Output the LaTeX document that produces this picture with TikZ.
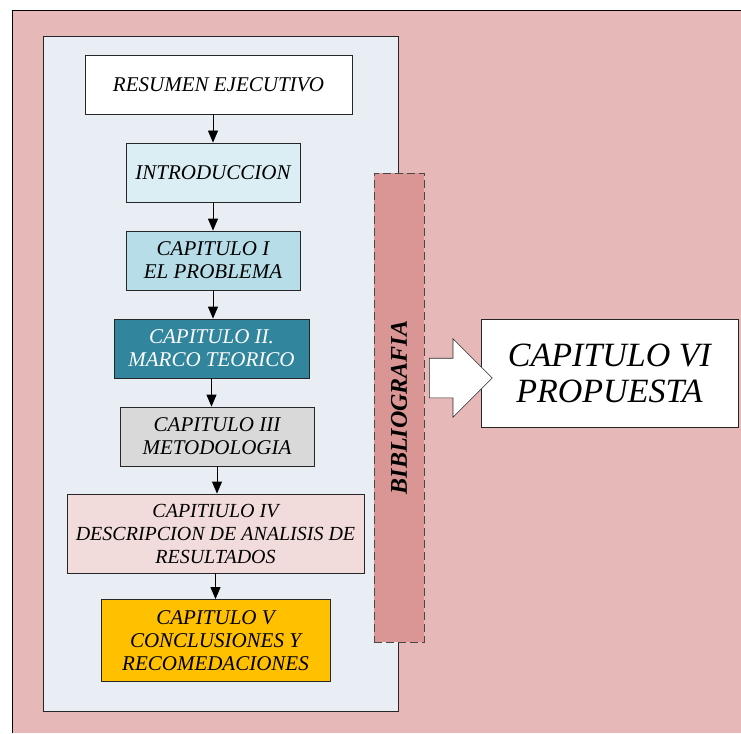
\documentclass[tikz,border=0pt]{standalone}
\usepackage{fontspec}
\setmainfont{Liberation Serif}
\usetikzlibrary{shapes.arrows,arrows.meta}
\definecolor{outerpink}{HTML}{E6B9B8}
\definecolor{panelblue}{HTML}{E9EDF4}
\definecolor{introfill}{HTML}{DBEEF4}
\definecolor{capIfill}{HTML}{B7DEE8}
\definecolor{capIIfill}{HTML}{31859C}
\definecolor{capIIIfill}{HTML}{D9D9D9}
\definecolor{capIVfill}{HTML}{F2DCDB}
\definecolor{capVfill}{HTML}{FFC000}
\definecolor{bibfill}{HTML}{D99694}
\definecolor{edge}{HTML}{262626}
\tikzset{
  chap/.style={draw=edge, line width=0.8pt, inner sep=2pt, align=center,
    font=\fontsize{21}{23}\selectfont\itshape},
  arr/.style={draw=black, line width=0.8pt, -{Triangle[length=12pt,width=10pt]}},
}
\begin{document}
\begin{tikzpicture}[x=1pt,y=-1pt]
\useasboundingbox (0,0) rectangle (741,733);
% outer background
\fill[outerpink] (12,11) rectangle (741,733);
\draw[line width=1pt, black] (12,733) -- (12,11) -- (741,11);
% panel
\draw[draw=edge, line width=0.8pt, fill=panelblue] (43,36) rectangle (398,711);
% chapter boxes
\node[chap, fill=white, minimum width=267pt, minimum height=59pt] (res) at (218.5,84.5) {RESUMEN EJECUTIVO};
\node[chap, fill=introfill, minimum width=174pt, minimum height=59pt] (intro) at (213,172.5) {INTRODUCCION};
\node[chap, fill=capIfill, minimum width=174pt, minimum height=59pt] (cap1) at (213,260.5) {CAPITULO I\\EL PROBLEMA};
\node[chap, fill=capIIfill, text=white, minimum width=195pt, minimum height=59pt] (cap2) at (211.5,348.5) {CAPITULO II.\\MARCO TEORICO};
\node[chap, fill=capIIIfill, minimum width=194pt, minimum height=59pt] (cap3) at (217,436.5) {CAPITULO III\\METODOLOGIA};
\node[chap, fill=capIVfill, minimum width=297pt, minimum height=79pt, inner sep=1pt, font=\fontsize{20}{23}\selectfont\itshape] (cap4) at (215.5,533.5) {CAPITIULO IV\\DESCRIPCION DE ANALISIS DE\\RESULTADOS};
\node[chap, fill=capVfill, minimum width=229pt, minimum height=82pt] (cap5) at (215.5,640.5) {CAPITULO V\\CONCLUSIONES Y\\RECOMEDACIONES};
% connectors
\draw[arr] (res.south -| intro.north) -- (intro.north);
\draw[arr] (intro.south) -- (cap1.north);
\draw[arr] (cap1.south) -- (cap1.south |- cap2.north);
\draw[arr] (cap2.south) -- (cap2.south |- cap3.north);
\draw[arr] (cap3.south) -- (cap3.south |- cap4.north);
\draw[arr] (cap4.south) -- (cap4.south |- cap5.north);
% bibliography bar
\node[draw=edge!85, dashed, dash pattern=on 8pt off 4pt, line width=1pt, fill=bibfill,
  minimum width=50pt, minimum height=469pt, inner sep=0pt] (bib) at (399,407.5) {};
\node[rotate=90, font=\fontsize{24}{26}\selectfont\bfseries\itshape] (bibtext) at (bib.center) {BIBLIOGRAFIA};
% chapter VI
\node[draw=edge, line width=0.8pt, fill=white, minimum width=257pt, minimum height=108pt, align=center,
  font=\fontsize{34}{36}\selectfont\itshape] (cap6) at (609.5,373) {CAPITULO VI\\PROPUESTA};
% block arrow
\node[single arrow, draw=edge, line width=0.6pt, fill=white, minimum height=63pt,
  inner xsep=0pt, inner ysep=19.5pt, text height=0pt, text depth=0pt, text width=0pt,
  single arrow head extend=19.5pt, single arrow head indent=0pt, anchor=west] (blk) at (429,378) {};
\end{tikzpicture}
\end{document}
